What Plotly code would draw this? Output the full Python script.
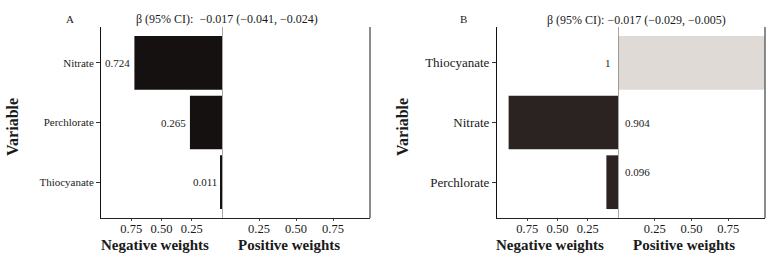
import plotly.graph_objects as go

# ---------------- data ----------------
panel_a_vars = ["Nitrate", "Perchlorate", "Thiocyanate"]
panel_a_weights = [0.724, 0.265, 0.011]
panel_a_dirs = ["neg", "neg", "neg"]
panel_a_labels = ["0.724", "0.265", "0.011"]
panel_a_title = "β (95% CI):  −0.017 (−0.041, −0.024)"

panel_b_vars = ["Thiocyanate", "Nitrate", "Perchlorate"]
panel_b_weights = [1.0, 0.904, 0.096]
panel_b_dirs = ["pos", "neg", "neg"]
panel_b_labels = ["1", "0.904", "0.096"]
panel_b_title = "β (95% CI): −0.017 (−0.029, −0.005)"

tick_vals = [0.25, 0.50, 0.75]
tick_text = ["0.25", "0.50", "0.75"]

# ---------------- styling ----------------
W, H = 778, 259
FONT = "Liberation Serif, Times New Roman, serif"
TXT = "#1a1a1a"

def px_x(p):
    return p / W

def px_y(p):
    return (H - p) / H

YDOM = [px_y(218), px_y(27)]

panels = [
    dict(letter="A", vars=panel_a_vars, w=panel_a_weights, d=panel_a_dirs, lab=panel_a_labels,
         title=panel_a_title, neg_dom=[px_x(101), px_x(222)], pos_dom=[px_x(222), px_x(370)],
         xn="x", xp="x2", y="y", neg_color="#141110", pos_color="#e0dad7", mode="end",
         cat_size=11, letter_x=70, title_x=227, title_y=19, var_x=12, negtitle_x=155, postitle_x=288.5,
         yshift={}),
    dict(letter="B", vars=panel_b_vars, w=panel_b_weights, d=panel_b_dirs, lab=panel_b_labels,
         title=panel_b_title, neg_dom=[px_x(497), px_x(618)], pos_dom=[px_x(618), px_x(765)],
         xn="x3", xp="x4", y="y2", neg_color="#2b2321", pos_color="#e0dad7", mode="center",
         cat_size=13, letter_x=463, title_x=636, title_y=20, var_x=402, negtitle_x=549.5, postitle_x=683.5,
         yshift={"Perchlorate": 10}),
]

fig = go.Figure()
layout = dict(
    width=W, height=H, margin=dict(l=0, r=0, t=0, b=0, autoexpand=False),
    paper_bgcolor="white", plot_bgcolor="white",
    showlegend=False, bargap=0.1,
    font=dict(family=FONT, color=TXT),
)
annotations = []
shapes = []

def axname(ref):
    return "xaxis" if ref == "x" else "xaxis" + ref[1:]

def yaxname(ref):
    return "yaxis" if ref == "y" else "yaxis" + ref[1:]

for p in panels:
    nv = [v for v, d in zip(p["vars"], p["d"]) if d == "neg"]
    nw = [w for w, d in zip(p["w"], p["d"]) if d == "neg"]
    pv = [v for v, d in zip(p["vars"], p["d"]) if d == "pos"]
    pw = [w for w, d in zip(p["w"], p["d"]) if d == "pos"]
    fig.add_trace(go.Bar(y=nv, x=nw, orientation="h", xaxis=p["xn"], yaxis=p["y"],
                         marker=dict(color=p["neg_color"], line=dict(width=0)), width=0.9,
                         hoverinfo="skip"))
    fig.add_trace(go.Bar(y=pv, x=pw, orientation="h", xaxis=p["xp"], yaxis=p["y"],
                         marker=dict(color=p["pos_color"], line=dict(width=0)), width=0.9,
                         hoverinfo="skip"))

    common_x = dict(tickmode="array", tickvals=tick_vals, ticktext=tick_text,
                    showgrid=False, zeroline=False, showline=True, linecolor="#222",
                    linewidth=1, ticks="outside", ticklen=2, tickcolor="#444", tickwidth=1,
                    ticklabelstandoff=-3,
                    tickfont=dict(size=12.5, family=FONT, color=TXT),
                    anchor=p["y"], fixedrange=True, automargin=False)
    layout[axname(p["xn"])] = dict(common_x, domain=p["neg_dom"], range=[1, 0])
    layout[axname(p["xp"])] = dict(common_x, domain=p["pos_dom"], range=[0, 1])
    layout[yaxname(p["y"])] = dict(
        domain=YDOM, anchor=p["xn"], type="category", categoryorder="array",
        categoryarray=p["vars"], range=[len(p["vars"]) - 0.4, -0.6],
        showgrid=False, zeroline=False, showline=True, linecolor="#111", linewidth=1,
        ticks="outside", ticklen=4, tickcolor="#333", automargin=False,
        tickfont=dict(size=p["cat_size"], family=FONT, color=TXT), fixedrange=True)

    # center line and right border
    shapes.append(dict(type="line", xref=p["xp"], x0=0, x1=0,
                       yref=p["y"] + " domain", y0=0, y1=1,
                       line=dict(color="#777", width=1.3)))
    shapes.append(dict(type="line", xref=p["xp"] + " domain", x0=1, x1=1,
                       yref=p["y"] + " domain", y0=0, y1=1,
                       line=dict(color="#666", width=1.5)))

    # value labels
    for v, w, d, lab in zip(p["vars"], p["w"], p["d"], p["lab"]):
        ys = p["yshift"].get(v, 0)
        if p["mode"] == "end":
            xr = p["xn"] if d == "neg" else p["xp"]
            annotations.append(dict(x=w, y=v, xref=xr, yref=p["y"], text=lab, showarrow=False,
                                    xanchor="right" if d == "neg" else "left",
                                    xshift=-2 if d == "neg" else 2, yshift=ys,
                                    font=dict(size=11, family=FONT, color=TXT)))
        else:
            if d == "neg":
                annotations.append(dict(x=0, y=v, xref=p["xp"], yref=p["y"], text=lab, showarrow=False,
                                        xanchor="left", xshift=5, yshift=ys,
                                        font=dict(size=11, family=FONT, color=TXT)))
            else:
                annotations.append(dict(x=0, y=v, xref=p["xn"], yref=p["y"], text=lab, showarrow=False,
                                        xanchor="right", xshift=-5, yshift=ys,
                                        font=dict(size=11, family=FONT, color=TXT)))

    # titles
    annotations.append(dict(x=px_x(p["letter_x"]), y=px_y(19), xref="paper", yref="paper",
                            text=p["letter"], showarrow=False, xanchor="center", yanchor="middle",
                            font=dict(size=11, family=FONT, color=TXT)))
    annotations.append(dict(x=px_x(p["title_x"]), y=px_y(p["title_y"]), xref="paper", yref="paper",
                            text=p["title"], showarrow=False, xanchor="center", yanchor="middle",
                            font=dict(size=12, family=FONT, color=TXT)))
    annotations.append(dict(x=px_x(p["var_x"]), y=px_y(127), xref="paper", yref="paper",
                            text="<b>Variable</b>", showarrow=False, textangle=-90,
                            xanchor="center", yanchor="middle",
                            font=dict(size=16, family=FONT, color=TXT)))
    annotations.append(dict(x=px_x(p["negtitle_x"]), y=px_y(245), xref="paper", yref="paper",
                            text="<b>Negative weights</b>", showarrow=False,
                            xanchor="center", yanchor="middle",
                            font=dict(size=15, family=FONT, color=TXT)))
    annotations.append(dict(x=px_x(p["postitle_x"]), y=px_y(245), xref="paper", yref="paper",
                            text="<b>Positive weights</b>", showarrow=False,
                            xanchor="center", yanchor="middle",
                            font=dict(size=15, family=FONT, color=TXT)))

layout["annotations"] = annotations
layout["shapes"] = shapes
fig.update_layout(**layout)
fig.write_html("out.html", config={"displayModeBar": False},
               post_script="document.body.style.margin='0';document.body.style.padding='0';")
